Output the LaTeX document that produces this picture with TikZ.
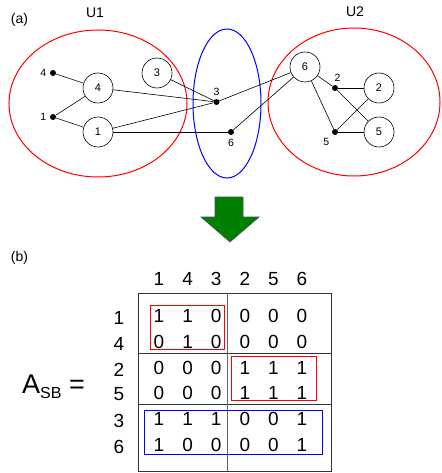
\documentclass[tikz,border=0pt]{standalone}
\usepackage{fontspec}
\setmainfont{Liberation Sans}
\usetikzlibrary{positioning}

\definecolor{arrowgreen}{RGB}{0,128,0}

\tikzset{
  vert/.style={draw, circle, minimum size=30pt, inner sep=0pt, line width=0.6pt, font=\fontsize{11}{11}\selectfont},
  dot/.style={circle, fill, minimum size=6pt, inner sep=0pt, label distance=0pt},
  every label/.style={font=\fontsize{10.5}{10.5}\selectfont},
  edge/.style={line width=0.6pt},
  cluster/.style={line width=1pt},
  digit/.style={inner sep=0pt, font=\fontsize{19}{19}\selectfont},
  title/.style={inner sep=0pt, font=\fontsize{14}{14}\selectfont},
  block/.style={line width=0.8pt}
}

\begin{document}
\begin{tikzpicture}[x=1pt, y=-1pt]
    \useasboundingbox (0,0) rectangle (441,473);

    % Part (a): clusters
    \draw[cluster, red] (98,103.5) ellipse [x radius=89pt, y radius=73.5pt];
    \draw[cluster, blue] (227,103.5) ellipse [x radius=34pt, y radius=74.5pt];
    \draw[cluster, red] (354,102) ellipse [x radius=86pt, y radius=74pt];
    \node[title] (a) at (19.5,20) {(a)};
    \node[title] (U1) at (95,13) {U1};
    \node[title] (U2) at (355,12) {U2};

    % Nodes
    \node[dot, label=left:4] (d4) at (53,73) {};
    \node[dot, label=left:1] (d1) at (53,117) {};
    \node[vert] (c4) at (98,88) {4};
    \node[vert] (c1) at (98,132) {1};
    \node[vert] (c3) at (157,73) {3};
    \node[dot, label=above:3] (d3) at (216.5,102) {};
    \node[dot, label=below:6] (d6) at (231,132) {};
    \node[vert] (c6) at (305,67) {6};
    \node[dot, label={[xshift=2.5pt]above:2}] (d2) at (335,88) {};
    \node[dot, label=below left:5] (d5) at (335,132) {};
    \node[vert] (c2) at (379,88) {2};
    \node[vert] (c5) at (379,132) {5};

    % Edges
    \draw[edge] (d4) -- (c4);
    \draw[edge] (d1) -- (c4);
    \draw[edge] (d1) -- (c1);
    \draw[edge] (c4) -- (d3);
    \draw[edge] (c1) -- (d3);
    \draw[edge] (c3) -- (d3);
    \draw[edge] (c1) -- (d6);
    \draw[edge] (c6) -- (d3);
    \draw[edge] (c6) -- (d6);
    \draw[edge] (c6) -- (d2);
    \draw[edge] (c6) -- (d5);
    \draw[edge] (d2) -- (c2);
    \draw[edge] (d2) -- (c5);
    \draw[edge] (d5) -- (c2);
    \draw[edge] (d5) -- (c5);

    % Arrow
    \draw[fill=arrowgreen, draw=black!70, line width=0.6pt]
      (215,197) -- (243,197) -- (243,217) -- (259,217) -- (230,242)
      -- (201,217) -- (215,217) -- cycle;

    % Part (b): matrix
    \node[title] (b) at (19.5,258) {(b)};
    \node[inner sep=0pt, anchor=base west] (A) at (22,393)
      {\fontsize{27}{27}\selectfont A\raisebox{-5pt}{\fontsize{16}{16}\selectfont SB} =};

    \foreach \c [count=\i] in {1,4,3,2,5,6}
      \node[digit] (col\i) at ({159+28.6*(\i-1)},279) {\c};
    \foreach \y/\r [count=\j] in {316/1,342/4,368/2,393/5,419/3,445/6}
      \node[digit] (row\j) at (119,\y+1.5) {\r};
    \foreach \y/\vals [count=\j] in {316/{1,1,0,0,0,0}, 342/{0,1,0,0,0,0},
        368/{0,0,0,1,1,1}, 393/{0,0,0,1,1,1}, 419/{1,1,1,0,0,1}, 445/{1,0,0,0,0,1}}
      \foreach \v [count=\i] in \vals
        \node[digit] (m\j\i) at ({159+28.6*(\i-1)},\y) {\v};

    % Blocks
    \draw[block, black!80] (138,293) rectangle (331,471);
    \draw[block, black!80] (138,353) -- (331,353);
    \draw[block, black!80] (138,404) -- (331,404);
    \draw[block, black!60] (227,293) -- (227,471);
    \draw[block, red] (150,305) rectangle (224,349);
    \draw[block, red] (231,356) rectangle (316,400);
    \draw[block, blue] (144,410) rectangle (322,454);
\end{tikzpicture}
\end{document}
